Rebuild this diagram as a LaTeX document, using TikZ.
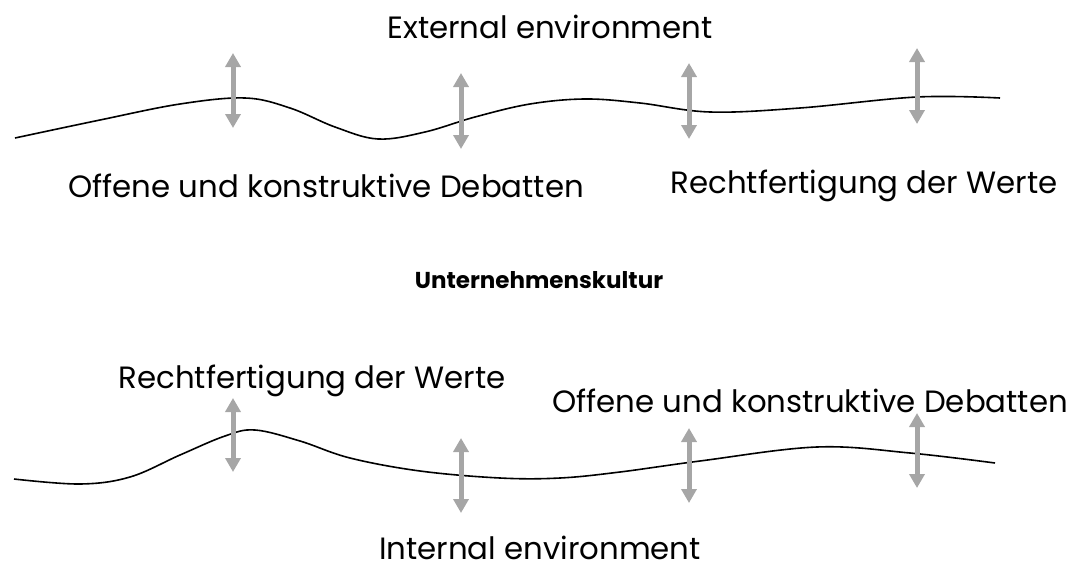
\documentclass[tikz,border=0pt]{standalone}
\usepackage{fontspec}
\setmainfont{Poppins}
\usepackage{xcolor}
\usetikzlibrary{arrows.meta}

\definecolor{arrowgray}{HTML}{A6A6A6}

\tikzset{
    lbl/.style={font=\fontsize{30.8}{36}\selectfont\mdseries, inner sep=0pt},
    flow/.style={arrowgray, line width=5pt, {Triangle[width=15pt,length=14pt]}-{Triangle[width=15pt,length=14pt]}},
    wave/.style={black, line width=1.6pt, smooth, tension=0.6}
}

\begin{document}
\begin{tikzpicture}[x=1pt, y=-1pt]
            \useasboundingbox (0,0) rectangle (1073,570);

            % top: external environment
            \node[lbl] (ext) at (550,27) {External environment};
            \draw[wave] plot coordinates {(15,138) (100,120) (180,104) (245,98) (290,108) (335,127) (378,139) (425,132) (475,117) (530,104) (585,99) (640,103) (710,112) (800,108) (917,97) (1000,98)};
            \foreach \n/\x/\ya/\yb in {a1/233/53/128, a2/461/73/149, a3/689/63/139, a4/917/48/124} {
                \coordinate (\n top) at (\x,\ya);
                \coordinate (\n bot) at (\x,\yb);
                \draw[flow] (\n top) -- (\n bot);
            }
            \node[lbl] (debtop) at (326,186) {Offene und konstruktive Debatten};
            \node[lbl] (rectop) at (864,186) {Rechtfertigung der Werte};

            % middle title
            \node[lbl, font=\fontsize{23}{28}\selectfont\bfseries] (kultur) at (539,280) {Unternehmenskultur};

            % bottom: internal environment
            \node[lbl] (recbot) at (312,381) {Rechtfertigung der Werte};
            \node[lbl] (debbot) at (810,401) {Offene und konstruktive Debatten};
            \draw[wave] plot coordinates {(14,479) (80,484) (130,477) (180,455) (225,436) (255,430) (300,441) (350,458) (420,471) (500,478) (560,478) (620,472) (700,461) (817,447) (910,453) (995,463)};
            \foreach \n/\x/\ya/\yb in {b1/233/398/472, b2/461/438/513, b3/689/428/503, b4/917/413/488} {
                \coordinate (\n top) at (\x,\ya);
                \coordinate (\n bot) at (\x,\yb);
                \draw[flow] (\n top) -- (\n bot);
            }
            \node[lbl] (int) at (540,548) {Internal environment};
        \end{tikzpicture}
\end{document}
